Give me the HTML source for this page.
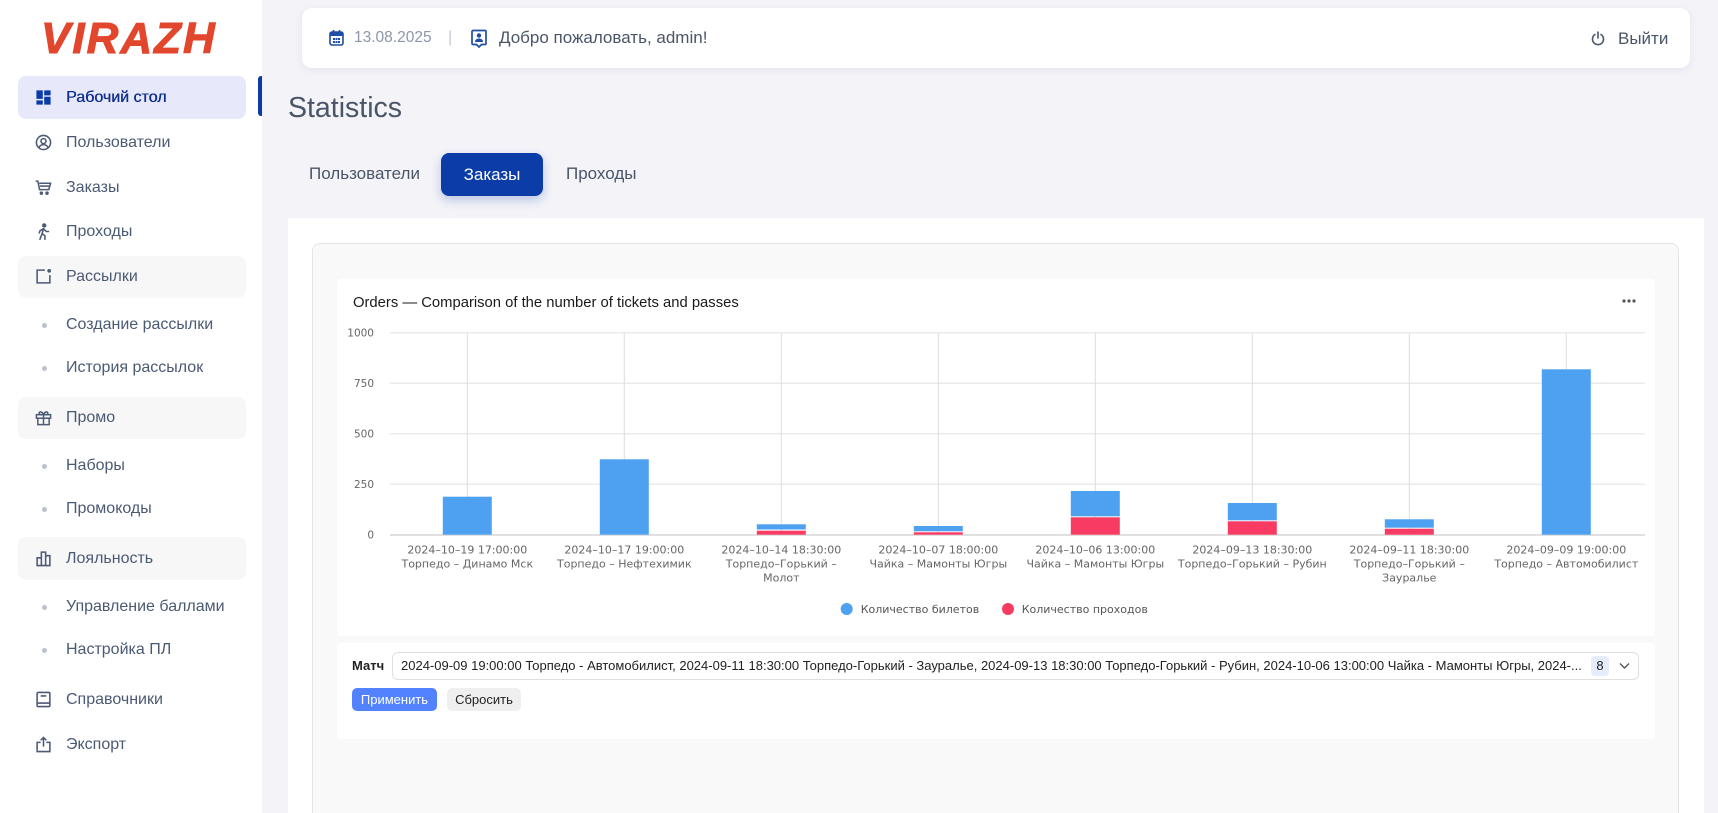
<!DOCTYPE html>
<html><head><meta charset="utf-8"><style>
*{margin:0;padding:0;box-sizing:border-box}
html,body{width:1718px;height:813px;overflow:hidden}
body{background:#f3f3f8;font-family:"Liberation Sans",Arial,sans-serif}
#root{position:relative;width:1718px;height:813px;overflow:hidden;background:#f3f3f8}
.a{position:absolute}
.nav{position:absolute;left:66px;height:24px;line-height:24px;font-size:16px;color:#4b5a73;white-space:nowrap}
.ic{position:absolute;left:35px;width:17px;height:17px}
.dot{position:absolute;left:41.5px;width:5px;height:5px;border-radius:50%;background:#bcc2cc}
.box{position:absolute;left:18px;width:228px;border-radius:8px;background:#f7f7f8}
</style></head><body><div id="root">

<!-- Sidebar -->
<div class="a" style="left:0;top:0;width:262px;height:813px;background:#fff"></div>
<div class="a" style="left:41px;top:17px;height:44px;line-height:44px;font-size:44px;font-weight:bold;font-style:italic;color:#e2462c;-webkit-text-stroke:1px #e2462c;letter-spacing:2px">VIRAZH</div>

<div class="box" style="top:76px;height:43px;background:#e8e8fb"></div>
<div class="a" style="left:258px;top:76px;width:4px;height:40px;background:#0b3ba6;border-radius:3px 0 0 3px"></div>
<svg class="ic" style="top:89px" viewBox="0 0 24 24"><path fill="#0b3ba6" d="M2 2h9v12H2zM13 2h9v7h-9zM2 16h9v6H2zM13 11h9v11h-9z"/></svg>
<div class="nav" style="top:85.5px;color:#10308f;text-shadow:0.4px 0 0 #10308f">Рабочий стол</div>

<svg class="ic" style="top:134px" viewBox="0 0 24 24" fill="none" stroke="#4b5a75" stroke-width="2.2"><circle cx="12" cy="12" r="10"/><circle cx="12" cy="10" r="3.5"/><path d="M5.5 19c1.5-3 4-4 6.5-4s5 1 6.5 4"/></svg>
<div class="nav" style="top:131px">Пользователи</div>

<svg class="ic" style="top:179px" viewBox="0 0 24 24" fill="none" stroke="#4b5a75" stroke-width="2.2"><path d="M1 3h3l2.5 12h13L22 6H6"/><path d="M7 10h13"/><circle cx="9" cy="20" r="1.4" fill="#4b5a75"/><circle cx="17" cy="20" r="1.4" fill="#4b5a75"/></svg>
<div class="nav" style="top:176px">Заказы</div>

<svg class="ic" style="top:223px" viewBox="0 0 24 24" fill="none" stroke="#4b5a75" stroke-width="2.2" stroke-linecap="round"><circle cx="13" cy="3.5" r="2" fill="#4b5a75"/><path d="M12 8l-2 7 4 3v5M10 15l-3 8M12 8l4 4 3 0M12 8l-5 3-1 3"/></svg>
<div class="nav" style="top:220px">Проходы</div>

<div class="box" style="top:256px;height:42px"></div>
<svg class="ic" style="top:268px" viewBox="0 0 24 24" fill="none" stroke="#4b5a75" stroke-width="2.2"><path d="M14 3H3v18h18V10"/><circle cx="20" cy="4" r="2.6" fill="#4b5a75" stroke="none"/></svg>
<div class="nav" style="top:265px">Рассылки</div>

<div class="dot" style="top:322.5px"></div>
<div class="nav" style="top:313px">Создание рассылки</div>
<div class="dot" style="top:365.5px"></div>
<div class="nav" style="top:356px">История рассылок</div>

<div class="box" style="top:397px;height:42px"></div>
<svg class="ic" style="top:409px" viewBox="0 0 24 24" fill="none" stroke="#4b5a75" stroke-width="2.1"><rect x="2" y="8" width="20" height="5"/><path d="M4 13v9h16v-9M12 8v14"/><path d="M12 8c-2-5-7-5-6-1 0 1 3 1 6 1zM12 8c2-5 7-5 6-1 0 1-3 1-6 1z"/></svg>
<div class="nav" style="top:406px">Промо</div>

<div class="dot" style="top:463.5px"></div>
<div class="nav" style="top:454px">Наборы</div>
<div class="dot" style="top:506.5px"></div>
<div class="nav" style="top:497px">Промокоды</div>

<div class="box" style="top:537px;height:43px"></div>
<svg class="ic" style="top:550px" viewBox="0 0 24 24" fill="none" stroke="#4b5a75" stroke-width="2.2"><path d="M2 22h20M3 22V11h6v11M9 22V3h6v19M15 22V8h6v14"/></svg>
<div class="nav" style="top:547px">Лояльность</div>

<div class="dot" style="top:604.5px"></div>
<div class="nav" style="top:595px">Управление баллами</div>
<div class="dot" style="top:647.5px"></div>
<div class="nav" style="top:638px">Настройка ПЛ</div>

<svg class="ic" style="top:691px" viewBox="0 0 24 24" fill="none" stroke="#4b5a75" stroke-width="2.2"><rect x="3" y="2" width="18" height="20" rx="1.5"/><path d="M3 17h18M8 7h8"/></svg>
<div class="nav" style="top:688px">Справочники</div>

<svg class="ic" style="top:736px" viewBox="0 0 24 24" fill="none" stroke="#4b5a75" stroke-width="2.2"><path d="M8 9H3v13h18V9h-5M12 2v13M8 6l4-4 4 4"/></svg>
<div class="nav" style="top:733px">Экспорт</div>

<!-- Header -->
<div class="a" style="left:302px;top:8px;width:1388px;height:60px;background:#fff;border-radius:10px;box-shadow:0 2px 8px rgba(30,40,80,0.07)"></div>
<svg class="a" style="left:329px;top:29px" width="15" height="17" viewBox="0 0 15 17"><rect x="1" y="3" width="13" height="13" rx="2" fill="none" stroke="#1f4ea6" stroke-width="1.6"/><rect x="1" y="3" width="13" height="4" fill="#1f4ea6"/><line x1="4.5" y1="1" x2="4.5" y2="4" stroke="#1f4ea6" stroke-width="1.6"/><line x1="10.5" y1="1" x2="10.5" y2="4" stroke="#1f4ea6" stroke-width="1.6"/><g fill="#1f4ea6"><rect x="4" y="9" width="2" height="2"/><rect x="6.5" y="9" width="2" height="2"/><rect x="9" y="9" width="2" height="2"/><rect x="4" y="12" width="2" height="2"/><rect x="6.5" y="12" width="2" height="2"/><rect x="9" y="12" width="2" height="2"/></g></svg>
<div class="a" style="left:354px;top:27px;height:22px;line-height:22px;font-size:15.5px;color:#8c96a8">13.08.2025</div>
<div class="a" style="left:448px;top:27px;height:22px;line-height:22px;font-size:16px;color:#c3c8d1">|</div>
<svg class="a" style="left:471px;top:29px" width="16" height="19" viewBox="0 0 16 19"><path d="M2 1.5h12a1 1 0 0 1 1 1v12a1 1 0 0 1-1 1h-3.5L8 18l-2.5-2.5H2a1 1 0 0 1-1-1v-12a1 1 0 0 1 1-1z" fill="none" stroke="#1f4ea6" stroke-width="1.7"/><circle cx="8" cy="6.5" r="2.2" fill="#1f4ea6"/><path d="M4 13c0-2.5 2-3.5 4-3.5s4 1 4 3.5z" fill="#1f4ea6"/></svg>
<div class="a" style="left:499px;top:26px;height:24px;line-height:24px;font-size:17px;color:#4a5568">Добро пожаловать, admin!</div>
<svg class="a" style="left:1591px;top:31px" width="14" height="15" viewBox="0 0 14 15" fill="none" stroke="#4a5568" stroke-width="1.6" stroke-linecap="round"><path d="M4 3.5a5.5 5.5 0 1 0 6 0"/><line x1="7" y1="1" x2="7" y2="7"/></svg>
<div class="a" style="left:1618px;top:27px;height:24px;line-height:24px;font-size:17px;color:#4a5568">Выйти</div>

<!-- Title & tabs -->
<div class="a" style="left:288px;top:90px;height:36px;line-height:36px;font-size:28.5px;color:#4a5568">Statistics</div>
<div class="a" style="left:309px;top:162px;height:24px;line-height:24px;font-size:17px;color:#4a5568">Пользователи</div>
<div class="a" style="left:441px;top:153px;width:102px;height:43px;line-height:43px;border-radius:8px;background:#0b3ca7;color:#fff;font-size:17px;text-align:center;box-shadow:0 4px 10px rgba(11,60,167,0.25)">Заказы</div>
<div class="a" style="left:566px;top:162px;height:24px;line-height:24px;font-size:17px;color:#4a5568">Проходы</div>

<!-- Panels -->
<div class="a" style="left:288px;top:218px;width:1416px;height:595px;background:#fff"></div>
<div class="a" style="left:312px;top:243px;width:1367px;height:590px;background:#f9f9fa;border:1px solid #e3e5ea;border-radius:8px"></div>
<div class="a" style="left:337px;top:279px;width:1318px;height:357px;background:#fff;border-radius:4px"></div>
<div class="a" style="left:337px;top:643px;width:1318px;height:96px;background:#fff;border-radius:4px"></div>

<!-- Chart -->
<svg class="a" style="left:0;top:0" width="1718" height="813" viewBox="0 0 1718 813">
<text x="353" y="307" font-family="Liberation Sans, Arial, sans-serif" font-size="14.8" fill="#1a1a1a">Orders — Comparison of the number of tickets and passes</text>
<g fill="#555"><circle cx="1624" cy="301" r="1.6"/><circle cx="1629" cy="301" r="1.6"/><circle cx="1634" cy="301" r="1.6"/></g>
<g stroke="#ebebeb" stroke-width="1.5">
<line x1="390" y1="332.7" x2="1645" y2="332.7"/>
<line x1="390" y1="383.2" x2="1645" y2="383.2"/>
<line x1="390" y1="433.7" x2="1645" y2="433.7"/>
<line x1="390" y1="484.2" x2="1645" y2="484.2"/>
</g>
<g stroke="#dedede" stroke-width="1">
<line x1="467.3" y1="333" x2="467.3" y2="534"/>
<line x1="624.3" y1="333" x2="624.3" y2="534"/>
<line x1="781.3" y1="333" x2="781.3" y2="534"/>
<line x1="938.3" y1="333" x2="938.3" y2="534"/>
<line x1="1095.3" y1="333" x2="1095.3" y2="534"/>
<line x1="1252.3" y1="333" x2="1252.3" y2="534"/>
<line x1="1409.3" y1="333" x2="1409.3" y2="534"/>
<line x1="1566.3" y1="333" x2="1566.3" y2="534"/>
</g>
<line x1="390" y1="535" x2="1645" y2="535" stroke="#e0e0e0" stroke-width="2"/>
<g font-family="DejaVu Sans, sans-serif" font-size="10.5" fill="#666" text-anchor="end">
<text x="374" y="336.5">1000</text>
<text x="374" y="387">750</text>
<text x="374" y="437.5">500</text>
<text x="374" y="488">250</text>
<text x="374" y="538.5">0</text>
</g>
<g fill="#4da1f0">
<rect x="442.8" y="496.7" width="49" height="38"/>
<rect x="599.8" y="459.3" width="49" height="75.4"/>
<rect x="756.8" y="524.3" width="49" height="5.2"/>
<rect x="913.8" y="526" width="49" height="5.3"/>
<rect x="1070.8" y="491" width="49" height="25.3"/>
<rect x="1227.8" y="503" width="49" height="17.3"/>
<rect x="1384.8" y="519.3" width="49" height="8.4"/>
<rect x="1541.8" y="369.3" width="49" height="165.4"/>
</g>
<g fill="#f83b62">
<rect x="756.8" y="530.7" width="49" height="4"/>
<rect x="913.8" y="532.3" width="49" height="2.4"/>
<rect x="1070.8" y="517.3" width="49" height="17.4"/>
<rect x="1227.8" y="521.3" width="49" height="13.4"/>
<rect x="1384.8" y="528.7" width="49" height="6"/>
</g>
<g font-family="DejaVu Sans, sans-serif" font-size="11" fill="#666" text-anchor="middle">
<text x="467.3" y="553.3">2024–10–19 17:00:00</text><text x="467.3" y="567.7">Торпедо – Динамо Мск</text>
<text x="624.3" y="553.3">2024–10–17 19:00:00</text><text x="624.3" y="567.7">Торпедо – Нефтехимик</text>
<text x="781.3" y="553.3">2024–10–14 18:30:00</text><text x="781.3" y="567.7">Торпедо–Горький –</text><text x="781.3" y="581.7">Молот</text>
<text x="938.3" y="553.3">2024–10–07 18:00:00</text><text x="938.3" y="567.7">Чайка – Мамонты Югры</text>
<text x="1095.3" y="553.3">2024–10–06 13:00:00</text><text x="1095.3" y="567.7">Чайка – Мамонты Югры</text>
<text x="1252.3" y="553.3">2024–09–13 18:30:00</text><text x="1252.3" y="567.7">Торпедо–Горький – Рубин</text>
<text x="1409.3" y="553.3">2024–09–11 18:30:00</text><text x="1409.3" y="567.7">Торпедо–Горький –</text><text x="1409.3" y="581.7">Зауралье</text>
<text x="1566.3" y="553.3">2024–09–09 19:00:00</text><text x="1566.3" y="567.7">Торпедо – Автомобилист</text>
</g>
<circle cx="846.7" cy="609" r="6" fill="#4da1f0"/>
<circle cx="1008" cy="609" r="6" fill="#f83b62"/>
<g font-family="DejaVu Sans, sans-serif" font-size="11" fill="#555">
<text x="860.7" y="613">Количество билетов</text>
<text x="1021.7" y="613">Количество проходов</text>
</g>
</svg>

<!-- Filter -->
<div class="a" style="left:352px;top:656px;height:20px;line-height:20px;font-size:13px;font-weight:bold;color:#222">Матч</div>
<div class="a" style="left:392px;top:652px;width:1247px;height:28px;border:1px solid #dfdfe2;border-radius:6px;background:#fff"></div>
<div class="a" style="left:401px;top:656px;width:1182px;height:20px;line-height:20px;font-size:13px;color:#222;white-space:nowrap;overflow:hidden">2024-09-09 19:00:00 Торпедо - Автомобилист, 2024-09-11 18:30:00 Торпедо-Горький - Зауралье, 2024-09-13 18:30:00 Торпедо-Горький - Рубин, 2024-10-06 13:00:00 Чайка - Мамонты Югры, 2024-...</div>
<div class="a" style="left:1591px;top:656px;width:18px;height:20px;line-height:20px;border-radius:4px;background:#e5edfd;font-size:13px;color:#222;text-align:center">8</div>
<svg class="a" style="left:1619px;top:662px" width="11" height="8" viewBox="0 0 11 8"><path d="M1 1.5l4.5 4.5 4.5-4.5" fill="none" stroke="#555" stroke-width="1.4"/></svg>
<div class="a" style="left:352px;top:688px;width:85px;height:23px;line-height:23px;border-radius:5px;background:#5282ff;color:#fff;font-size:13px;text-align:center">Применить</div>
<div class="a" style="left:447px;top:688px;width:74px;height:23px;line-height:23px;border-radius:5px;background:#efeff0;color:#222;font-size:13px;text-align:center">Сбросить</div>

</div></body></html>
